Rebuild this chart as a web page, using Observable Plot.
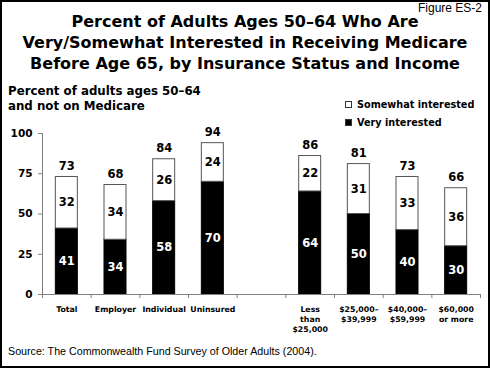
<!DOCTYPE html>
<html>
<head>
<meta charset="utf-8">
<script src="https://cdn.jsdelivr.net/npm/d3@7"></script>
<script src="https://cdn.jsdelivr.net/npm/@observablehq/plot@0.6"></script>
<style>
html, body { margin: 0; padding: 0; background: #fff; }
#fig { position: relative; width: 490px; height: 368px; background: #fff; overflow: hidden; font-family: "DejaVu Sans", sans-serif; color: #000; }
#frame { position: absolute; left: 0; top: 0; width: 490px; height: 368px; box-sizing: border-box; border: 2px solid #000; pointer-events: none; }
#figlabel { position: absolute; right: 8px; top: 2px; font: 12px/12px "Liberation Sans", Arial, sans-serif; }
#title { position: absolute; left: 0; top: 11px; width: 490px; text-align: center; font: bold 16px/21px "DejaVu Sans", sans-serif; }
#ytitle { position: absolute; left: 8px; top: 84px; font: bold 11.8px/14.5px "DejaVu Sans", sans-serif; }
#legend { position: absolute; left: 345px; top: 95px; font: bold 9.7px "DejaVu Sans", sans-serif; }
#legend .row { display: flex; align-items: center; height: 18px; }
#legend .sw { width: 7px; height: 7px; box-sizing: border-box; border: 1px solid #333; margin-right: 5px; }
#chart { position: absolute; left: 0; top: 112px; }
#source { position: absolute; left: 8px; top: 346px; font: 10.7px/10.7px "Liberation Sans", Arial, sans-serif; }
</style>
</head>
<body>
<div id="fig">
  <div id="figlabel">Figure ES-2</div>
  <div id="title">Percent of Adults Ages 50–64 Who Are<br>Very/Somewhat Interested in Receiving Medicare<br>Before Age 65, by Insurance Status and Income</div>
  <div id="ytitle">Percent of adults ages 50–64<br>and not on Medicare</div>
  <div id="legend"></div>
  <div id="chart"></div>
  <div id="source">Source: The Commonwealth Fund Survey of Older Adults (2004).</div>
  <div id="frame"></div>
</div>
<script>
// ---- data ----
const categories = ["Total", "Employer", "Individual", "Uninsured", "", "Less\nthan\n$25,000", "$25,000–\n$39,999", "$40,000–\n$59,999", "$60,000\nor more"];
const veryInterested = [41, 34, 58, 70, null, 64, 50, 40, 30];
const somewhatInterested = [32, 34, 26, 24, null, 22, 31, 33, 36];
const totals = [73, 68, 84, 94, null, 86, 81, 73, 66];
const yTicks = [0, 25, 50, 75, 100];
const seriesNames = ["Somewhat interested", "Very interested"];
const seriesColors = ["#fff", "#000"];

// ---- legend ----
const legend = document.getElementById("legend");
seriesNames.forEach((name, k) => {
  const row = document.createElement("div");
  row.className = "row";
  const sw = document.createElement("span");
  sw.className = "sw";
  sw.style.background = seriesColors[k];
  const lab = document.createElement("span");
  lab.textContent = name;
  row.appendChild(sw);
  row.appendChild(lab);
  legend.appendChild(row);
});

// ---- chart ----
const idx = categories.map((_, i) => i);
const boundaries = [...idx.map(i => i - 0.5), categories.length - 0.5];
const rows = idx.filter(i => veryInterested[i] != null).map(i => ({
  i, very: veryInterested[i], some: somewhatInterested[i], total: totals[i]
}));
const half = 0.226;
const gray = "#808080";
const x0 = -0.5, x1 = categories.length - 0.5;

const plot = Plot.plot({
  width: 490,
  height: 232,
  marginTop: 21,
  marginBottom: 50,
  marginLeft: 42,
  marginRight: 10,
  x: { type: "linear", domain: [x0, x1] },
  y: { domain: [0, 100] },
  style: { fontFamily: "DejaVu Sans, sans-serif", background: "transparent", overflow: "visible", color: "#000" },
  marks: [
    Plot.rect(rows, { x1: d => d.i - half, x2: d => d.i + half, y1: 0, y2: d => d.very, fill: seriesColors[1], stroke: "#000" }),
    Plot.rect(rows, { x1: d => d.i - half, x2: d => d.i + half, y1: d => d.very, y2: d => d.very + d.some, fill: seriesColors[0], stroke: "#555" }),
    Plot.ruleY([0], { x1: x0, x2: x1, stroke: gray }),
    Plot.ruleX([x0], { y1: 0, y2: 100, stroke: gray }),
    Plot.axisY(yTicks, { tickSize: 4, tickPadding: 6, stroke: gray, fontSize: 10.5, fontWeight: "bold", label: null }),
    Plot.axisX(boundaries, { tickSize: 4, stroke: gray, fill: "none", label: null }),
    Plot.axisX(idx, { tickSize: 0, tickPadding: 10, tickFormat: i => categories[i], fontSize: 7.8, fontWeight: "bold", lineHeight: 1.28, label: null }),
    Plot.text(rows, { x: "i", y: d => d.very / 2, text: d => String(d.very), fill: "#fff", fontSize: 11.5, fontWeight: "bold" }),
    Plot.text(rows, { x: "i", y: d => d.very + d.some / 2, text: d => String(d.some), fill: "#000", fontSize: 11.5, fontWeight: "bold" }),
    Plot.text(rows, { x: "i", y: "total", text: d => String(d.total), fill: "#000", fontSize: 11.5, fontWeight: "bold", dy: -11 })
  ]
});
document.getElementById("chart").appendChild(plot);
</script>
</body>
</html>
